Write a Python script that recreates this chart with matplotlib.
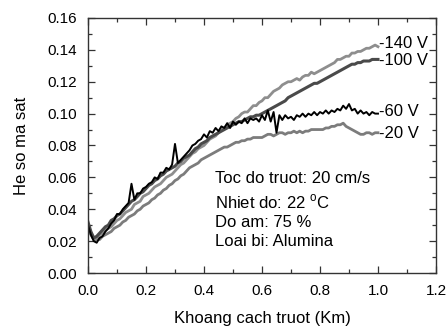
import numpy as np
import matplotlib
matplotlib.use("Agg")
import matplotlib.pyplot as plt
from matplotlib.ticker import MultipleLocator, FormatStrFormatter

plt.rcParams['font.family'] = ['Liberation Sans', 'DejaVu Sans']
plt.rcParams['mathtext.fontset'] = 'custom'
plt.rcParams['mathtext.rm'] = 'Liberation Sans'

# sliding distance (Km), sampled every 0.01 Km
distance = [round(i * 0.01, 2) for i in range(101)]

mu_140 = [0.030,0.025,0.021,0.022,0.024,0.025,0.027,0.028,0.029,0.031,
          0.033,0.034,0.036,0.038,0.039,0.040,0.043,0.044,0.045,0.048,
          0.049,0.050,0.052,0.054,0.055,0.056,0.058,0.060,0.061,0.062,
          0.064,0.066,0.068,0.069,0.071,0.073,0.075,0.076,0.078,0.079,
          0.080,0.082,0.084,0.085,0.086,0.088,0.090,0.091,0.093,0.094,
          0.095,0.097,0.098,0.100,0.101,0.101,0.103,0.105,0.105,0.107,
          0.108,0.110,0.110,0.112,0.114,0.115,0.116,0.118,0.119,0.120,
          0.120,0.121,0.122,0.121,0.123,0.124,0.124,0.126,0.125,0.126,
          0.127,0.128,0.129,0.130,0.131,0.132,0.134,0.134,0.135,0.136,
          0.136,0.138,0.138,0.139,0.139,0.140,0.141,0.141,0.142,0.143,
          0.142]

mu_100 = [0.032,0.026,0.022,0.023,0.025,0.027,0.029,0.030,0.033,0.034,
          0.036,0.037,0.039,0.041,0.043,0.045,0.046,0.048,0.050,0.051,
          0.053,0.055,0.056,0.058,0.059,0.061,0.062,0.064,0.065,0.066,
          0.067,0.069,0.070,0.072,0.073,0.074,0.076,0.078,0.079,0.081,
          0.082,0.083,0.085,0.086,0.087,0.088,0.089,0.090,0.091,0.092,
          0.093,0.094,0.095,0.095,0.096,0.097,0.098,0.098,0.099,0.099,
          0.100,0.101,0.102,0.103,0.104,0.105,0.106,0.107,0.108,0.110,
          0.111,0.112,0.113,0.114,0.115,0.116,0.117,0.118,0.119,0.119,
          0.120,0.121,0.122,0.123,0.124,0.125,0.126,0.127,0.128,0.129,
          0.130,0.131,0.131,0.132,0.132,0.133,0.133,0.133,0.134,0.134,
          0.134]

mu_60 = [0.030,0.024,0.020,0.019,0.022,0.023,0.026,0.028,0.031,0.033,
         0.037,0.037,0.040,0.042,0.044,0.056,0.046,0.050,0.050,0.053,
         0.054,0.056,0.057,0.060,0.059,0.063,0.063,0.066,0.065,0.068,
         0.081,0.069,0.071,0.073,0.075,0.077,0.080,0.081,0.083,0.084,
         0.087,0.085,0.089,0.088,0.091,0.089,0.092,0.091,0.094,0.091,
         0.095,0.093,0.095,0.094,0.097,0.094,0.097,0.096,0.097,0.095,
         0.099,0.096,0.102,0.095,0.101,0.088,0.099,0.096,0.099,0.097,
         0.098,0.096,0.099,0.098,0.100,0.098,0.100,0.099,0.101,0.099,
         0.101,0.100,0.102,0.100,0.102,0.101,0.103,0.102,0.105,0.103,
         0.106,0.102,0.103,0.100,0.102,0.100,0.101,0.099,0.101,0.100,
         0.100]

mu_20 = [0.028,0.024,0.021,0.021,0.021,0.023,0.024,0.025,0.026,0.028,
         0.029,0.030,0.032,0.033,0.035,0.036,0.037,0.039,0.040,0.042,
         0.043,0.044,0.046,0.047,0.049,0.050,0.052,0.053,0.055,0.056,
         0.058,0.059,0.061,0.062,0.064,0.066,0.067,0.068,0.069,0.071,
         0.072,0.073,0.074,0.075,0.076,0.077,0.078,0.079,0.079,0.080,
         0.081,0.082,0.082,0.083,0.083,0.084,0.084,0.085,0.085,0.085,
         0.085,0.086,0.087,0.087,0.086,0.087,0.088,0.088,0.087,0.088,
         0.088,0.089,0.088,0.089,0.088,0.089,0.089,0.090,0.090,0.090,
         0.090,0.090,0.091,0.091,0.092,0.092,0.093,0.093,0.094,0.092,
         0.091,0.090,0.089,0.088,0.087,0.087,0.088,0.088,0.087,0.088,
         0.088]

series_labels = ["-20 V", "-140 V", "-100 V", "-60 V"]
label_y = [0.0878, 0.1443, 0.1336, 0.1012]
series_colors = ["#7c7c7c", "#8e8e8e", "#4a4a4a", "#000000"]
series_widths = [2.0, 2.0, 2.2, 1.4]
series_values = [mu_20, mu_140, mu_100, mu_60]

info_lines = ["Toc do truot: 20 cm/s", r"Nhiet do: 22 $^{\rm o}$C",
              "Do am: 75 %", "Loai bi: Alumina"]
info_y = [0.059, 0.0447, 0.0318, 0.0197]

fig = plt.figure(figsize=(4.48, 3.30), dpi=100)
ax = fig.add_axes([0.1964, 0.1727, 0.7768, 0.7728])

for vals, col, lw in zip(series_values, series_colors, series_widths):
    ax.plot(distance, vals, color=col, lw=lw)

for lab, yy in zip(series_labels, label_y):
    ax.text(1.002, yy, lab, fontsize=12, va='center', ha='left')

for t, yy in zip(info_lines, info_y):
    ax.text(0.438, yy, t, fontsize=12, va='center', ha='left')

ax.set_xlim(0, 1.2)
ax.set_ylim(0, 0.16)
ax.xaxis.set_major_locator(MultipleLocator(0.2))
ax.xaxis.set_minor_locator(MultipleLocator(0.1))
ax.yaxis.set_major_locator(MultipleLocator(0.02))
ax.yaxis.set_minor_locator(MultipleLocator(0.01))
ax.xaxis.set_major_formatter(FormatStrFormatter('%.1f'))
ax.yaxis.set_major_formatter(FormatStrFormatter('%.2f'))
ax.tick_params(which='both', direction='in', top=True, right=True,
               labelsize=11, width=0.9, color='#333333')
ax.tick_params(which='major', length=5)
ax.tick_params(which='minor', length=3)
ax.tick_params(axis='x', which='major', pad=8)
ax.tick_params(axis='y', which='major', pad=8)
for s in ax.spines.values():
    s.set_linewidth(1.0)
    s.set_color('#333333')

ax.set_xlabel("Khoang cach truot (Km)", fontsize=12, labelpad=9)
ax.set_ylabel("He so ma sat", fontsize=12, labelpad=13)

fig.savefig("out.png", dpi=100)
